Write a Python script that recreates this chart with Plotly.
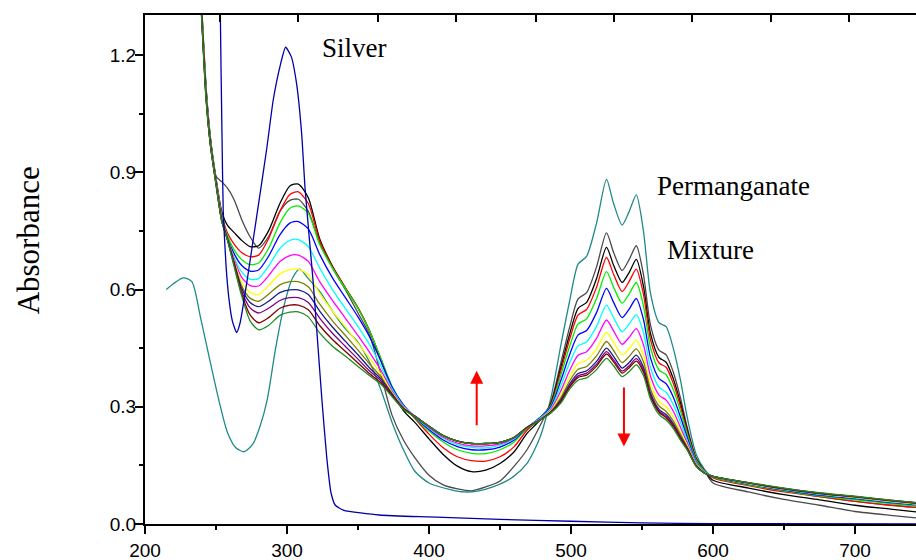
import plotly.graph_objects as go

# ---------------- data ----------------
wl = [236, 240, 243, 246, 250, 254, 258, 263, 268, 274, 280, 287, 295, 302, 308,
      315, 323, 332, 341, 350, 358, 366, 374, 382, 390,
      400, 410, 420, 430, 440, 450, 460, 469, 478,
      486, 493, 499, 505, 511, 518, 525, 530, 536, 541, 546, 551, 556, 562, 567,
      572, 577, 582, 588, 594, 600,
      625, 650, 675, 700, 725, 745]

mix_gray = [1.62, 1.32, 1.12, 0.99, 0.89, 0.876, 0.86, 0.828, 0.78, 0.735, 0.706, 0.735, 0.80, 0.828, 0.831,
            0.80, 0.72, 0.655, 0.60, 0.54, 0.485, 0.385, 0.278, 0.215, 0.17,
            0.125, 0.10, 0.09, 0.085, 0.095, 0.11, 0.148, 0.19, 0.25,
            0.313, 0.415, 0.503, 0.576, 0.592, 0.658, 0.745, 0.695, 0.649, 0.677, 0.712, 0.639, 0.509, 0.445, 0.433,
            0.389, 0.324, 0.245, 0.17, 0.137, 0.105,
            0.082, 0.063, 0.048, 0.032, 0.022, 0.015]
mix_black = [1.61, 1.315, 1.115, 0.99, 0.885, 0.80, 0.765, 0.745, 0.726, 0.71, 0.712, 0.75, 0.82, 0.865, 0.87,
             0.835, 0.73, 0.66, 0.605, 0.553, 0.495, 0.42, 0.345, 0.29, 0.26,
             0.218, 0.178, 0.148, 0.134, 0.138, 0.155, 0.185, 0.232, 0.265,
             0.31, 0.403, 0.485, 0.552, 0.567, 0.628, 0.708, 0.662, 0.618, 0.644, 0.677, 0.609, 0.487, 0.426, 0.414,
             0.372, 0.311, 0.239, 0.168, 0.136, 0.112,
             0.092, 0.075, 0.062, 0.048, 0.038, 0.03]
mix_red = [1.6, 1.31, 1.11, 0.985, 0.882, 0.795, 0.745, 0.715, 0.695, 0.684, 0.688, 0.73, 0.80, 0.843, 0.85,
           0.82, 0.725, 0.658, 0.605, 0.553, 0.496, 0.424, 0.35, 0.302, 0.27,
           0.23, 0.195, 0.172, 0.162, 0.161, 0.172, 0.198, 0.24, 0.27,
           0.307, 0.394, 0.472, 0.535, 0.549, 0.606, 0.682, 0.639, 0.595, 0.621, 0.652, 0.588, 0.472, 0.412, 0.401,
           0.36, 0.302, 0.234, 0.166, 0.136, 0.118,
           0.098, 0.082, 0.07, 0.058, 0.048, 0.042]
mix_green = [1.6, 1.31, 1.11, 0.985, 0.88, 0.79, 0.738, 0.70, 0.677, 0.664, 0.668, 0.705, 0.77, 0.808, 0.814,
             0.795, 0.715, 0.655, 0.603, 0.552, 0.495, 0.425, 0.352, 0.305, 0.272,
             0.238, 0.21, 0.19, 0.181, 0.18, 0.19, 0.21, 0.245, 0.272,
             0.304, 0.383, 0.454, 0.512, 0.525, 0.577, 0.646, 0.606, 0.565, 0.589, 0.618, 0.559, 0.451, 0.394, 0.382,
             0.344, 0.29, 0.228, 0.164, 0.135, 0.12,
             0.10, 0.085, 0.072, 0.062, 0.052, 0.045]
mix_blue = [1.59, 1.305, 1.105, 0.98, 0.878, 0.785, 0.732, 0.69, 0.662, 0.647, 0.65, 0.685, 0.74, 0.77, 0.774,
            0.755, 0.69, 0.63, 0.58, 0.53, 0.48, 0.418, 0.35, 0.305, 0.274,
            0.242, 0.215, 0.198, 0.19, 0.19, 0.197, 0.215, 0.246, 0.272,
            0.301, 0.369, 0.433, 0.484, 0.495, 0.541, 0.603, 0.567, 0.528, 0.55, 0.577, 0.524, 0.425, 0.372, 0.359,
            0.325, 0.275, 0.22, 0.16, 0.134, 0.121,
            0.102, 0.087, 0.074, 0.065, 0.055, 0.048]
mix_cyan = [1.59, 1.305, 1.105, 0.98, 0.876, 0.783, 0.73, 0.68, 0.645, 0.626, 0.628, 0.66, 0.705, 0.726, 0.728,
            0.71, 0.655, 0.60, 0.552, 0.505, 0.46, 0.405, 0.345, 0.302, 0.275,
            0.245, 0.22, 0.203, 0.196, 0.195, 0.202, 0.218, 0.247, 0.27,
            0.297, 0.355, 0.412, 0.456, 0.466, 0.506, 0.56, 0.528, 0.492, 0.512, 0.536, 0.49, 0.40, 0.35, 0.337,
            0.306, 0.261, 0.212, 0.158, 0.133, 0.122,
            0.103, 0.088, 0.076, 0.067, 0.057, 0.05]
mix_magenta = [1.58, 1.3, 1.1, 0.978, 0.875, 0.782, 0.73, 0.675, 0.632, 0.61, 0.609, 0.635, 0.672, 0.687, 0.688,
               0.672, 0.62, 0.572, 0.527, 0.482, 0.44, 0.394, 0.34, 0.30, 0.276,
               0.247, 0.222, 0.207, 0.20, 0.20, 0.205, 0.22, 0.247, 0.268,
               0.294, 0.342, 0.393, 0.432, 0.441, 0.475, 0.522, 0.494, 0.46, 0.478, 0.50, 0.459, 0.378, 0.33, 0.317,
               0.289, 0.248, 0.206, 0.155, 0.132, 0.122,
               0.104, 0.089, 0.077, 0.068, 0.058, 0.051]
mix_yellow = [1.58, 1.3, 1.1, 0.977, 0.874, 0.781, 0.73, 0.67, 0.62, 0.593, 0.587, 0.61, 0.64, 0.651, 0.652,
              0.638, 0.59, 0.545, 0.505, 0.462, 0.425, 0.385, 0.337, 0.298, 0.276,
              0.25, 0.225, 0.211, 0.205, 0.205, 0.208, 0.222, 0.247, 0.267,
              0.291, 0.332, 0.377, 0.411, 0.419, 0.449, 0.49, 0.465, 0.433, 0.449, 0.47, 0.433, 0.359, 0.314, 0.30,
              0.275, 0.237, 0.20, 0.153, 0.131, 0.122,
              0.104, 0.089, 0.077, 0.068, 0.058, 0.051]
mix_olive = [1.57, 1.295, 1.095, 0.975, 0.873, 0.78, 0.73, 0.668, 0.61, 0.578, 0.57, 0.588, 0.612, 0.62, 0.62,
             0.607, 0.563, 0.52, 0.483, 0.445, 0.41, 0.377, 0.334, 0.297, 0.276,
             0.25, 0.226, 0.212, 0.206, 0.205, 0.208, 0.222, 0.247, 0.266,
             0.289, 0.324, 0.366, 0.396, 0.403, 0.43, 0.467, 0.444, 0.413, 0.429, 0.448, 0.415, 0.345, 0.302, 0.288,
             0.264, 0.23, 0.196, 0.151, 0.131, 0.122,
             0.105, 0.09, 0.078, 0.069, 0.059, 0.052]
mix_navy = [1.57, 1.295, 1.095, 0.975, 0.872, 0.778, 0.73, 0.665, 0.603, 0.567, 0.556, 0.57, 0.592, 0.599, 0.599,
            0.587, 0.545, 0.504, 0.468, 0.433, 0.40, 0.372, 0.332, 0.296, 0.276,
            0.25, 0.226, 0.212, 0.206, 0.206, 0.209, 0.222, 0.247, 0.266,
            0.287, 0.319, 0.358, 0.385, 0.392, 0.416, 0.45, 0.429, 0.399, 0.413, 0.432, 0.401, 0.335, 0.293, 0.28,
            0.257, 0.224, 0.193, 0.15, 0.13, 0.122,
            0.105, 0.09, 0.078, 0.07, 0.06, 0.053]
mix_purple = [1.56, 1.29, 1.09, 0.972, 0.871, 0.777, 0.73, 0.663, 0.597, 0.553, 0.54, 0.552, 0.572, 0.579, 0.579,
              0.567, 0.527, 0.488, 0.455, 0.422, 0.392, 0.367, 0.33, 0.295, 0.276,
              0.25, 0.226, 0.212, 0.206, 0.206, 0.209, 0.222, 0.247, 0.266,
              0.286, 0.316, 0.353, 0.379, 0.386, 0.409, 0.441, 0.42, 0.391, 0.405, 0.423, 0.394, 0.33, 0.289, 0.275,
              0.253, 0.221, 0.191, 0.149, 0.13, 0.122,
              0.105, 0.091, 0.079, 0.07, 0.06, 0.053]
mix_wine = [1.56, 1.29, 1.09, 0.972, 0.87, 0.776, 0.728, 0.66, 0.59, 0.535, 0.515, 0.528, 0.552, 0.56, 0.56,
            0.548, 0.508, 0.472, 0.442, 0.412, 0.385, 0.362, 0.328, 0.294, 0.275,
            0.25, 0.226, 0.212, 0.206, 0.206, 0.209, 0.222, 0.247, 0.265,
            0.285, 0.314, 0.35, 0.375, 0.381, 0.404, 0.435, 0.415, 0.386, 0.40, 0.417, 0.389, 0.326, 0.286, 0.272,
            0.25, 0.219, 0.19, 0.149, 0.13, 0.122,
            0.106, 0.091, 0.079, 0.07, 0.061, 0.054]
mix_dkgreen = [1.55, 1.285, 1.085, 0.97, 0.868, 0.775, 0.727, 0.655, 0.585, 0.52, 0.497, 0.508, 0.534, 0.542, 0.543,
               0.53, 0.489, 0.455, 0.43, 0.403, 0.38, 0.358, 0.326, 0.293, 0.275,
               0.25, 0.226, 0.212, 0.206, 0.206, 0.209, 0.222, 0.245, 0.265,
               0.285, 0.31, 0.345, 0.368, 0.374, 0.395, 0.424, 0.405, 0.377, 0.39, 0.407, 0.38, 0.32, 0.28, 0.266,
               0.245, 0.215, 0.188, 0.148, 0.13, 0.122,
               0.106, 0.092, 0.08, 0.071, 0.061, 0.054]

perm_wl = [215, 220, 227, 233, 239, 245, 252, 258, 264, 270, 276, 281, 286, 292, 298, 304, 309, 315, 323, 332,
           341, 350, 358, 366, 374, 382, 390, 400, 415, 425, 435, 445, 459, 469, 478, 486, 493, 499, 505, 511,
           518, 525, 530, 536, 541, 546, 551, 556, 562, 567, 572, 577, 582, 588, 594, 600, 625, 650, 675, 700,
           725, 745]
perm_abs = [0.60, 0.615, 0.63, 0.62, 0.53, 0.43, 0.317, 0.235, 0.195, 0.185, 0.205, 0.25, 0.317, 0.45, 0.56, 0.63,
            0.652, 0.628, 0.595, 0.545, 0.50, 0.465, 0.415, 0.345, 0.26, 0.19, 0.135, 0.105, 0.088, 0.082,
            0.085, 0.095, 0.12, 0.155, 0.22, 0.325, 0.46, 0.57, 0.665, 0.685, 0.77, 0.882, 0.82, 0.765, 0.80,
            0.842, 0.75, 0.59, 0.515, 0.505, 0.45, 0.37, 0.27, 0.18, 0.14, 0.12, 0.10, 0.085, 0.07, 0.058,
            0.048, 0.042]

silver_wl = [251, 253, 254.2, 255.1, 257, 259, 261.5, 264.5, 267, 271.6, 278.6, 285.6, 290.3, 295, 299, 303,
             306.7, 310.3, 312.7, 315.5, 318.5, 321.5, 324.6, 328, 331, 334, 340, 365, 400, 450, 500, 550, 600, 745]
silver_abs = [2.2, 1.32, 1.0, 0.80, 0.665, 0.58, 0.52, 0.49, 0.515, 0.616, 0.786, 0.957, 1.085, 1.17, 1.22, 1.196,
              1.128, 1.0, 0.86, 0.74, 0.616, 0.47, 0.317, 0.17, 0.08, 0.048, 0.035, 0.023, 0.018, 0.012, 0.007,
              0.003, 0.001, 0.0]

mixtures = [
    (mix_gray, "#4a4a4a"), (mix_black, "#000000"), (mix_red, "#ff0000"), (mix_green, "#00ee00"),
    (mix_blue, "#0000ff"), (mix_cyan, "#00ffff"), (mix_magenta, "#ff00ff"), (mix_yellow, "#ffff00"),
    (mix_olive, "#808000"), (mix_navy, "#1a1a8c"), (mix_purple, "#800080"), (mix_wine, "#800000"),
    (mix_dkgreen, "#1e8c1e"),
]

x_ticks = [200, 300, 400, 500, 600, 700]
y_ticks = [0.0, 0.3, 0.6, 0.9, 1.2]
top_ticks = [253, 308, 364, 419, 475, 530, 585, 641, 696]

labels = [("Silver", 323, 1.218), ("Permanganate", 559, 0.865), ("Mixture", 566, 0.70)]
arrows = [(433.6, 0.249, 0.392), (537.3, 0.353, 0.198)]  # x, tail y, head y

# ---------------- figure ----------------
fig = go.Figure()
fig.add_trace(go.Scatter(x=perm_wl, y=perm_abs, mode="lines",
                         line=dict(color="#1f8a8a", width=1.3, shape="spline", smoothing=0.7)))
for vals, col in mixtures:
    fig.add_trace(go.Scatter(x=wl, y=vals, mode="lines",
                             line=dict(color=col, width=1.3, shape="spline", smoothing=0.7)))
fig.add_trace(go.Scatter(x=silver_wl, y=silver_abs, mode="lines",
                         line=dict(color="#0000a8", width=1.3, shape="spline", smoothing=0.5)))
fig.add_trace(go.Scatter(x=[200], y=[0], xaxis="x2", mode="markers", opacity=0,
                         hoverinfo="skip", showlegend=False))

xr = [200, 742.96]
tickfont = dict(family="Liberation Sans, Arial", size=19, color="black")
fig.update_layout(
    width=916, height=560,
    margin=dict(l=145, r=0, t=15, b=36),
    plot_bgcolor="white", paper_bgcolor="white",
    showlegend=False,
    xaxis=dict(range=xr, automargin=False, showline=True, linecolor="black", linewidth=2,
               tickvals=x_ticks, ticks="outside", ticklen=8, tickwidth=2, tickcolor="black",
               minor=dict(ticks="outside", ticklen=4, tickwidth=2, tickcolor="black", tick0=200, dtick=50,
                          showgrid=False),
               showgrid=False, zeroline=False, tickfont=tickfont),
    xaxis2=dict(range=xr, automargin=False, overlaying="x", side="top", showline=True, linecolor="black",
                linewidth=2, tickvals=top_ticks, ticks="inside", ticklen=7, tickwidth=2, tickcolor="black",
                showticklabels=False, showgrid=False, zeroline=False),
    yaxis=dict(range=[0, 1.3025], automargin=False, showline=True, linecolor="black", linewidth=2,
               tickvals=y_ticks, tickformat=".1f", ticks="outside", ticklen=8, tickwidth=2, tickcolor="black",
               ticklabelstandoff=-5,
               minor=dict(ticks="outside", ticklen=4, tickwidth=2, tickcolor="black", tick0=0, dtick=0.15,
                          showgrid=False),
               showgrid=False, zeroline=False, tickfont=tickfont),
)

for txt, x, y in labels:
    fig.add_annotation(x=x, y=y, text=txt, showarrow=False, xanchor="left", yanchor="middle",
                       font=dict(family="Liberation Serif, Times New Roman", size=27, color="black"))

for x, y0, y1 in arrows:
    fig.add_annotation(x=x, y=y1, ax=x, ay=y0, xref="x", yref="y", axref="x", ayref="y",
                       text="", showarrow=True, arrowhead=2, arrowsize=1.3, arrowwidth=2,
                       arrowcolor="#ff0000")

fig.add_annotation(xref="paper", yref="paper", x=-0.15, y=0.558, text="Absorbance", textangle=-90,
                   showarrow=False, xanchor="center", yanchor="middle",
                   font=dict(family="Liberation Serif, Times New Roman", size=31, color="black"))

fig.write_html("out.html", config={"displayModeBar": False},
               post_script="document.body.style.margin='0';document.body.style.overflow='hidden';")
